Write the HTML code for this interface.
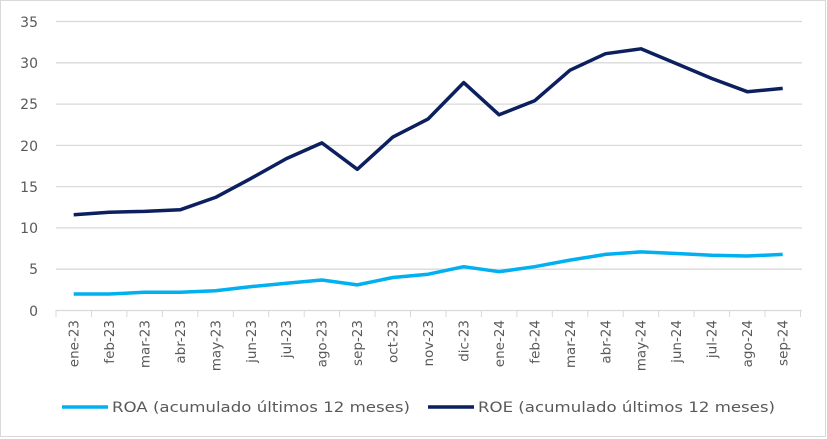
<!DOCTYPE html>
<html><head><meta charset="utf-8"><style>
html,body{margin:0;padding:0;background:#fff}
svg{display:block;font-family:"DejaVu Sans","Liberation Sans",sans-serif}
</style></head><body>
<svg width="827" height="439" viewBox="0 0 827 439">
<rect x="0.5" y="0.5" width="825" height="436" fill="#fff" stroke="#d9d9d9"/>
<g stroke="#d9d9d9" stroke-width="1.3">
<line x1="56" x2="802" y1="21.5" y2="21.5"/>
<line x1="56" x2="802" y1="62.8" y2="62.8"/>
<line x1="56" x2="802" y1="104.1" y2="104.1"/>
<line x1="56" x2="802" y1="145.4" y2="145.4"/>
<line x1="56" x2="802" y1="186.6" y2="186.6"/>
<line x1="56" x2="802" y1="227.9" y2="227.9"/>
<line x1="56" x2="802" y1="269.2" y2="269.2"/>
<line x1="56" x2="802" y1="310.5" y2="310.5"/>
</g>
<g stroke="#d9d9d9">
<path d="M56 310v7M91.5 310v7M126.9 310v7M162.4 310v7M197.8 310v7M233.3 310v7M268.7 310v7M304.2 310v7M339.6 310v7M375.1 310v7M410.5 310v7M446 310v7M481.4 310v7M516.9 310v7M552.3 310v7M587.8 310v7M623.2 310v7M658.7 310v7M694.1 310v7M729.6 310v7M765 310v7M800.5 310v7"/>
</g>
<g fill="#595959" font-size="14" text-anchor="end">
<text x="38" y="27">35</text><text x="38" y="68">30</text><text x="38" y="109">25</text><text x="38" y="151">20</text><text x="38" y="192">15</text><text x="38" y="233">10</text><text x="38" y="274">5</text><text x="38" y="316">0</text>
</g>
<g fill="#595959" font-size="13.5" text-anchor="end">
<text transform="translate(78.5,320) rotate(-90)">ene-23</text>
<text transform="translate(114,320) rotate(-90)">feb-23</text>
<text transform="translate(149.4,320) rotate(-90)">mar-23</text>
<text transform="translate(184.9,320) rotate(-90)">abr-23</text>
<text transform="translate(220.3,320) rotate(-90)">may-23</text>
<text transform="translate(255.8,320) rotate(-90)">jun-23</text>
<text transform="translate(291.2,320) rotate(-90)">jul-23</text>
<text transform="translate(326.7,320) rotate(-90)">ago-23</text>
<text transform="translate(362.1,320) rotate(-90)">sep-23</text>
<text transform="translate(397.6,320) rotate(-90)">oct-23</text>
<text transform="translate(433,320) rotate(-90)">nov-23</text>
<text transform="translate(468.5,320) rotate(-90)">dic-23</text>
<text transform="translate(503.9,320) rotate(-90)">ene-24</text>
<text transform="translate(539.4,320) rotate(-90)">feb-24</text>
<text transform="translate(574.8,320) rotate(-90)">mar-24</text>
<text transform="translate(610.3,320) rotate(-90)">abr-24</text>
<text transform="translate(645.7,320) rotate(-90)">may-24</text>
<text transform="translate(681.2,320) rotate(-90)">jun-24</text>
<text transform="translate(716.6,320) rotate(-90)">jul-24</text>
<text transform="translate(752.1,320) rotate(-90)">ago-24</text>
<text transform="translate(787.5,320) rotate(-90)">sep-24</text>
</g>
<polyline fill="none" stroke="#00b0f0" stroke-width="3.5" stroke-linejoin="round" points="73.7,294 109.2,294 144.6,292.3 180.1,292.3 215.5,290.7 251,286.6 286.4,283.3 321.9,280 357.3,284.9 392.8,277.5 428.2,274.2 463.7,266.7 499.1,271.7 534.6,266.7 570,260.1 605.5,254.4 640.9,251.9 676.4,253.5 711.8,255.2 747.3,256 782.7,254.4"/>
<polyline fill="none" stroke="#0c1f5e" stroke-width="3.5" stroke-linejoin="round" points="73.7,214.7 109.2,212.2 144.6,211.4 180.1,209.8 215.5,197.4 251,178.4 286.4,158.6 321.9,142.9 357.3,169.3 392.8,137.1 428.2,118.9 463.7,82.6 499.1,114.8 534.6,100.8 570,70.2 605.5,53.7 640.9,48.8 676.4,63.6 711.8,78.5 747.3,91.7 782.7,88.4"/>
<line x1="62" x2="108" y1="407" y2="407" stroke="#00b0f0" stroke-width="3.5"/>
<text x="112" y="412" fill="#595959" font-size="14" textLength="298" lengthAdjust="spacingAndGlyphs">ROA (acumulado últimos 12 meses)</text>
<line x1="428" x2="474" y1="407" y2="407" stroke="#0c1f5e" stroke-width="3.5"/>
<text x="478" y="412" fill="#595959" font-size="14" textLength="297" lengthAdjust="spacingAndGlyphs">ROE (acumulado últimos 12 meses)</text>
</svg>
</body></html>
